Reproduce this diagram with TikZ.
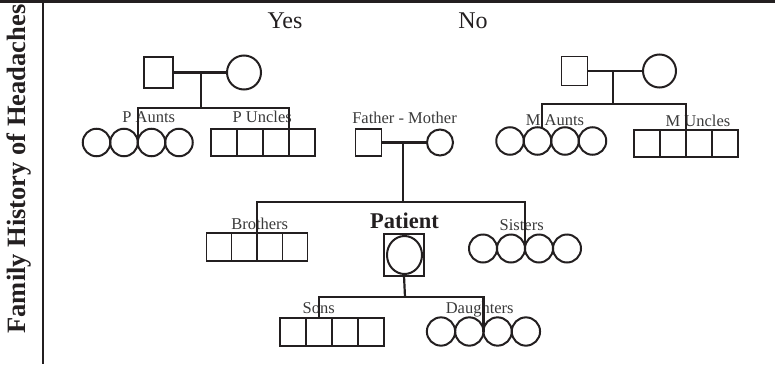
\documentclass[tikz,border=0pt]{standalone}
\usepackage{fontspec}
\setmainfont{Liberation Serif}
\usepackage{xcolor}
\definecolor{ink}{HTML}{231F20}
\definecolor{labelgray}{HTML}{3A3A3A}
\usetikzlibrary{positioning}
\usetikzlibrary{shapes.geometric}

\begin{document}
\begin{tikzpicture}[x=1pt,y=-1pt,node distance=0pt,
	every node/.style={inner sep=0,outer sep=0},
	male/.style={draw=ink,rectangle,line width=1.2pt,minimum width=26pt,minimum height=27pt},
	female/.style={draw=ink,circle,line width=2pt,minimum size=27.5pt},
	lbl/.style={text=labelgray,anchor=base,font=\fontsize{16.5}{18}\selectfont},
	head/.style={text=ink,anchor=base,font=\fontsize{24}{26}\selectfont},
	link/.style={draw=ink,line width=2.2pt}]
	\useasboundingbox (0,0) rectangle (775,364);
	% table frame
	\draw[ink,line width=2.4pt] (0,1.5) -- (775,1.5);
	\draw[ink,line width=2.2pt] (43,0) -- (43,364);
	\foreach \x in {213,353,500} \draw[ink,line width=1.2pt] (\x,0) -- (\x,2);
	\node (side) [rotate=90,anchor=base,text=ink,font=\fontsize{26.5}{28}\selectfont\bfseries] at (25,169) {Family History of Headaches};
	\node (yes) [head] at (285,28) {Yes};
	\node (no) [head] at (473,28) {No};

	% paternal grandparents
	\node (pgf) [male,minimum width=29pt,minimum height=31pt] at (158.5,72.5) {};
	\node (pgm) [female,minimum size=34pt] at (244,72.5) {};
	\coordinate (pm) at (200.7,72.5);
	\coordinate (ps) at (200.7,108);
	\node (pa1) [female] at (96.5,142.5) {};
	\foreach \i [count=\j from 2] in {1,2,3} \node (pa\j) [female,right=of pa\i] {};
	\node (pu1) [male] at (224,142.5) {};
	\foreach \i [count=\j from 2] in {1,2,3} \node (pu\j) [male,right=of pu\i] {};
	\node [lbl] at (148.7,122.7) {P Aunts};
	\node [lbl] at (262.2,122.7) {P Uncles};

	% maternal grandparents
	\node (mgf) [male,minimum width=26pt,minimum height=29pt] at (574.5,71) {};
	\node (mgm) [female,minimum size=33pt] at (659.5,71) {};
	\coordinate (mm) at (613,71);
	\coordinate (ms) at (613,104);
	\node (ma1) [female] at (510,141) {};
	\foreach \i [count=\j from 2] in {1,2,3} \node (ma\j) [female,right=of ma\i] {};
	\node (mu1) [male] at (647,143.5) {};
	\foreach \i [count=\j from 2] in {1,2,3} \node (mu\j) [male,right=of mu\i] {};
	\node [lbl] at (555,125) {M Aunts};
	\node [lbl] at (698,126) {M Uncles};

	% parents
	\node (fa) [male] at (368.5,142.5) {};
	\node (mo) [female,minimum size=26pt] at (440,142.5) {};
	\node [lbl] at (404.5,123) {Father - Mother};
	\coordinate (fm) at (403,142.5);
	\coordinate (sib) at (403,202);

	% siblings
	\node (br1) [male,minimum width=25.3pt,minimum height=28pt] at (219,247) {};
	\foreach \i [count=\j from 2] in {1,2,3} \node (br\j) [male,minimum width=25.3pt,minimum height=28pt,right=of br\i] {};
	\node (si1) [female,minimum size=28pt] at (483,248.5) {};
	\foreach \i [count=\j from 2] in {1,2,3} \node (si\j) [female,minimum size=28pt,right=of si\i] {};
	\node [lbl] at (259.7,229) {Brothers};
	\node [lbl] at (521.7,230) {Sisters};

	% patient
	\node (pat) [draw=ink,line width=2.2pt,minimum width=40pt,minimum height=42pt] at (404,255) {};
	\node (patc) [draw=ink,ellipse,line width=2pt,minimum width=35pt,minimum height=38pt] at (404.5,255) {};
	\node [anchor=base,text=ink,font=\fontsize{22.5}{24}\selectfont\bfseries] at (404.5,228) {Patient};
	\coordinate (kj) at (405,297);

	% children
	\node (so1) [male,minimum height=28pt] at (293,332) {};
	\foreach \i [count=\j from 2] in {1,2,3} \node (so\j) [male,minimum height=28pt,right=of so\i] {};
	\node (da1) [female,minimum size=28.3pt] at (441,331.5) {};
	\foreach \i [count=\j from 2] in {1,2,3} \node (da\j) [female,minimum size=28.3pt,right=of da\i] {};
	\node [lbl] at (318.7,313) {Sons};
	\node [lbl] at (479.7,313) {Daughters};

	% lines of descent
	\draw[link] (pgf.east) -- (pgm.west);
	\draw[link] (pm) -- (ps);
	\draw[link] (pa3.west) |- (ps) -| (pu3.south east);
	\draw[link] (mgf.east) -- (mgm.west);
	\draw[link] (mm) -- (ms);
	\draw[link] (ma2.70) |- (ms) -| (mu2.south east);
	\draw[link] (fa.east) -- (mo.west);
	\draw[link] (fm) -- (sib);
	\draw[link] (br2.north east) |- (sib) -| (si3.west);
	\draw[link] (pat.south) -- (kj);
	\draw[link] (so2.north) |- (kj) -| (da3.west);
\end{tikzpicture}
\end{document}
